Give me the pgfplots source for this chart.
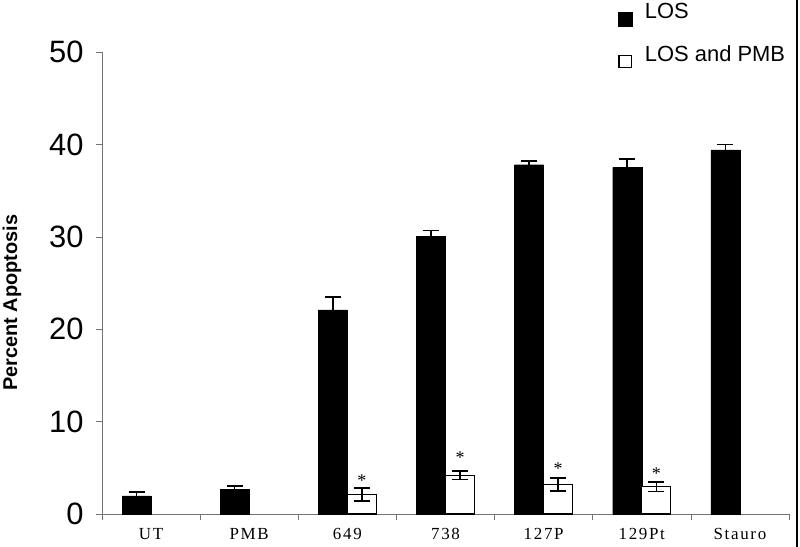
\documentclass[border=0pt]{standalone}
\usepackage{fontspec}
\setmainfont{Liberation Sans}
\newfontfamily\serifticks[LetterSpace=10]{Liberation Serif}
\newfontfamily\serifplain{Liberation Serif}
\usepackage{pgfplots}
\pgfplotsset{compat=1.18}

\begin{document}
\begin{tikzpicture}
\path[use as bounding box] (0,0) rectangle (800bp,547bp);
\begin{axis}[
    at={(102bp,33bp)}, anchor=south west,
    scale only axis,
    width=687bp, height=462bp,
    ybar,
    bar width=0.296,
    xmin=-0.5, xmax=6.5,
    ymin=0, ymax=50,
    axis lines*=left,
    axis line style={black!55, line width=0.6bp},
    xtick={-0.5,0.5,...,6.5},
    xticklabels={UT,PMB,649,738,127P,129Pt,Stauro},
    x tick label as interval,
    ytick={0,10,...,50},
    tick align=outside,
    major tick length=6bp,
    tick style={black!55, line width=0.5bp},
    /pgf/number format/assume math mode=true,
    yticklabel style={font=\fontsize{31}{31}\selectfont, xshift=-9bp},
    xticklabel style={font=\serifticks\fontsize{17}{17}\selectfont, yshift=-5bp},
    ylabel={Percent Apoptosis},
    ylabel style={at={(axis description cs:-0.131,0.457)}, anchor=center,
        font=\bfseries\fontsize{20}{20}\selectfont},
    legend style={at={(axis description cs:0.751,1.11)}, anchor=north west,
        draw=none, fill=none, inner sep=0pt,
        font=\fontsize{22}{22}\selectfont, row sep=18bp},
    legend cell align=left,
    error bars/error bar style={line width=1.6bp, black},
    error bars/error mark options={rotate=90, mark size=8bp, line width=1.6bp, black},
    clip=false,
]

% LOS
\addplot[fill=black, draw=black, bar shift=-0.148,
    legend image code/.code={\fill[black] (0bp,-14bp) rectangle (14bp,0bp);
        \path (24bp,0bp);},
    error bars/.cd, y dir=both, y explicit]
    coordinates {
    (0,1.95) +- (0,0.4)
    (1,2.65) +- (0,0.4)
    (2,22.1) +- (0,1.4)
    (3,30.05) +- (0,0.65)
    (4,37.8) +- (0,0.4)
    (5,37.5) +- (0,0.9)
    (6,39.4) +- (0,0.6)
};

% LOS and PMB
\addplot[fill=white, draw=black, line width=1.3bp, bar shift=0.148,
    legend image code/.code={\draw[black, fill=white, line width=1.3bp] (0.6bp,-13bp) rectangle (13.4bp,-1bp);
        \path (24bp,0bp);},
    error bars/.cd, y dir=both, y explicit]
    coordinates {
    (2,2.1) +- (0,0.7)
    (3,4.2) +- (0,0.45)
    (4,3.2) +- (0,0.7)
    (5,2.95) +- (0,0.5)
};

% asterisks
\addplot[draw=none, fill=none, bar shift=0.148, forget plot,
    nodes near coords={*},
    every node near coord/.append style={font=\serifplain\fontsize{18}{18}\selectfont,
        anchor=base, inner sep=0pt}]
    coordinates {(2,2.95) (3,5.45) (4,4.25) (5,3.75)};

\legend{LOS, LOS and PMB}
\end{axis}
\draw[line width=1.5bp] (797bp,0) -- (797bp,547bp);
\end{tikzpicture}
\end{document}
